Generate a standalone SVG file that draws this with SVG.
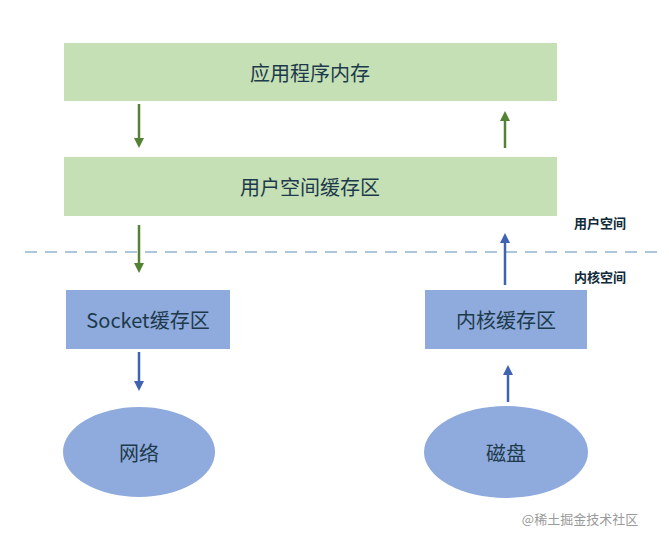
<svg xmlns="http://www.w3.org/2000/svg" width="669" height="542" viewBox="0 0 669 542">
<style>
text{font-family:"Noto Sans CJK SC","Noto Sans",sans-serif;text-anchor:middle;dominant-baseline:central;fill:#1d3a4c}
.g{fill:#c5e0b4}
.b{fill:#8faadc}
.t{font-size:20px}
.s{font-size:13px;font-weight:bold;fill:#0e2a3a}
.ag{stroke:#548235;stroke-width:2.5;fill:none}
.ab{stroke:#3f63b0;stroke-width:2.5;fill:none}
</style>
<defs>
<marker id="mg" markerWidth="4" markerHeight="4" refX="2" refY="2" orient="auto" markerUnits="strokeWidth"><path d="M0,0L4,2L0,4Z" fill="#548235"/></marker>
<marker id="mb" markerWidth="4" markerHeight="4" refX="2" refY="2" orient="auto" markerUnits="strokeWidth"><path d="M0,0L4,2L0,4Z" fill="#3f63b0"/></marker>
</defs>
<rect width="669" height="542" fill="#fff"/>
<g id="app"><rect class="g" x="64" y="43" width="493" height="58"/><text class="t" x="310" y="72">应用程序内存</text></g>
<g id="user"><rect class="g" x="64" y="157" width="493" height="59"/><text class="t" x="310" y="186">用户空间缓存区</text></g>
<g id="socket"><rect class="b" x="66" y="290" width="164" height="59"/><text class="t" x="148" y="319">Socket缓存区</text></g>
<g id="kernel"><rect class="b" x="425" y="290" width="162" height="59"/><text class="t" x="506" y="319">内核缓存区</text></g>
<g id="net"><ellipse class="b" cx="139" cy="452" rx="76" ry="45"/><text class="t" x="139" y="452">网络</text></g>
<g id="disk"><ellipse class="b" cx="506" cy="452" rx="82" ry="46"/><text class="t" x="506" y="452">磁盘</text></g>
<g id="labels">
<line x1="25" y1="252" x2="660" y2="252" stroke="#5b8db8" stroke-width="1" stroke-dasharray="12,8"/>
<text class="s" x="600" y="222">用户空间</text>
<text class="s" x="600" y="276">内核空间</text>
<text x="580" y="518" style="font-size:13px;fill:#9a9a9a">@稀土掘金技术社区</text>
</g>
<g id="connectors">
<line class="ag" x1="139" y1="104" x2="139" y2="143" marker-end="url(#mg)"/>
<line class="ag" x1="505" y1="148" x2="505" y2="116" marker-end="url(#mg)"/>
<line class="ag" x1="139" y1="225" x2="139" y2="268" marker-end="url(#mg)"/>
<line class="ab" x1="505" y1="285" x2="505" y2="238" marker-end="url(#mb)"/>
<line class="ab" x1="139" y1="352" x2="139" y2="386" marker-end="url(#mb)"/>
<line class="ab" x1="508" y1="402" x2="508" y2="370" marker-end="url(#mb)"/>
</g>
</svg>
